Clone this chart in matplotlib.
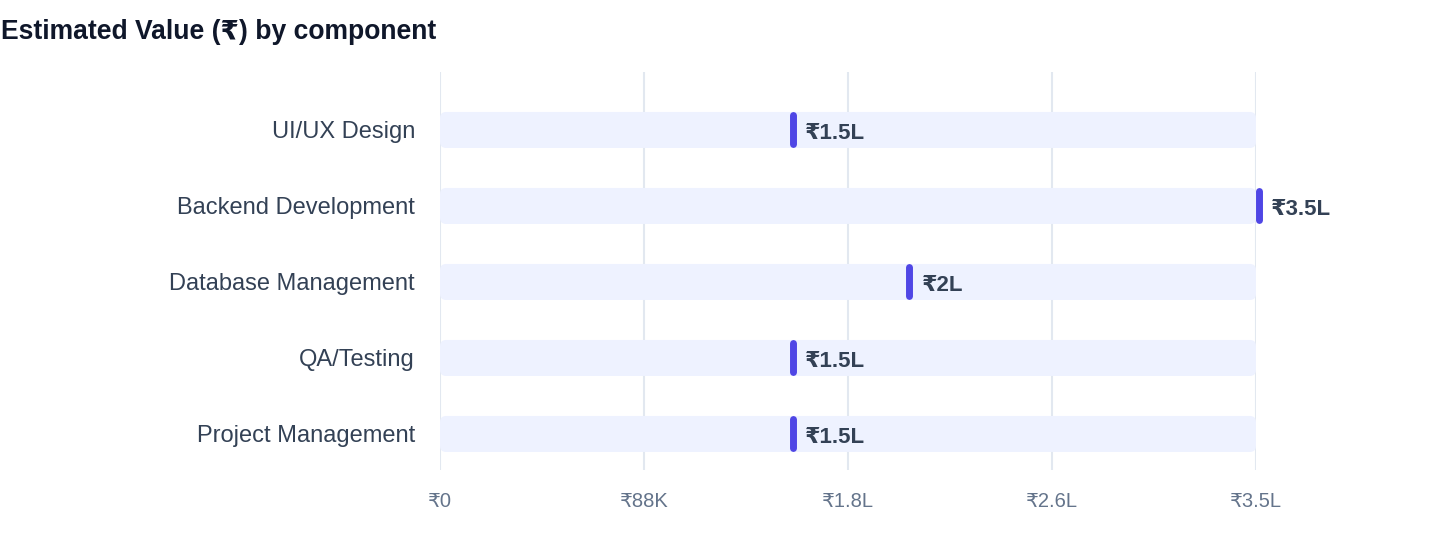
import matplotlib
matplotlib.use("Agg")
import matplotlib.pyplot as plt
from matplotlib.patches import FancyBboxPatch
from matplotlib.transforms import offset_copy

plt.rcParams['font.family'] = ['Liberation Sans', 'DejaVu Sans']

# data
components = ["UI/UX Design", "Backend Development", "Database Management",
              "QA/Testing", "Project Management"]
values = [150000, 350000, 200000, 150000, 150000]
value_labels = ["₹1.5L", "₹3.5L", "₹2L", "₹1.5L", "₹1.5L"]
max_value = 350000
tick_values = [0, 87500, 175000, 262500, 350000]
tick_labels = ["₹0", "₹88K", "₹1.8L", "₹2.6L", "₹3.5L"]

W, H = 1440, 560
fig = plt.figure(figsize=(W / 100, H / 100), dpi=100)
ax = fig.add_axes([440 / W, 1 - 470 / H, 816 / W, 398 / H])

ax.set_xlim(0, max_value)
ax.set_ylim(4.474, -0.763)

# px -> data units
xu = max_value / 816.0
yu = 1 / 76.0

# markers sit a few px right of the value in the reference
mark_tr = offset_copy(ax.transData, fig=fig, x=3, y=0, units="dots")

track_h = 36 * yu
r = 6 * xu
for i, v in enumerate(values):
    track = FancyBboxPatch((r, i - track_h / 2 + 6 * yu), max_value - 2 * r, track_h - 12 * yu,
                           boxstyle="round,pad=%f" % r,
                           mutation_aspect=(6 * yu) / r,
                           fc="#eef2ff", ec="none", zorder=1)
    ax.add_patch(track)
    ax.plot([v, v], [i - 14.5 * yu, i + 14.5 * yu], color="#4f46e5", lw=5,
            solid_capstyle="round", zorder=3, clip_on=False, transform=mark_tr)
    ax.annotate(value_labels[i], (v, i), xytext=(11, -2.5), textcoords="offset points",
                va="center", ha="left", fontsize=16, fontweight="bold",
                color="#334155", annotation_clip=False, zorder=4)

ax.set_yticks(range(len(components)))
ax.set_yticklabels(components, fontsize=17, color="#334155")
ax.set_xticks(tick_values)
ax.set_xticklabels(tick_labels, fontsize=14.5, color="#64748b")
ax.tick_params(axis="y", length=0, pad=18)
ax.tick_params(axis="x", length=0, pad=16)
ax.grid(axis="x", color="#e2e8f0", lw=1.5, zorder=0)
ax.set_axisbelow(True)
for s in ax.spines.values():
    s.set_visible(False)

fig.text(1 / W, 1 - 32 / H, "Estimated Value (₹) by component", fontsize=19.1,
         fontweight="bold", color="#0f172a", va="center", ha="left")

fig.savefig("out.png", dpi=100, facecolor="white")
